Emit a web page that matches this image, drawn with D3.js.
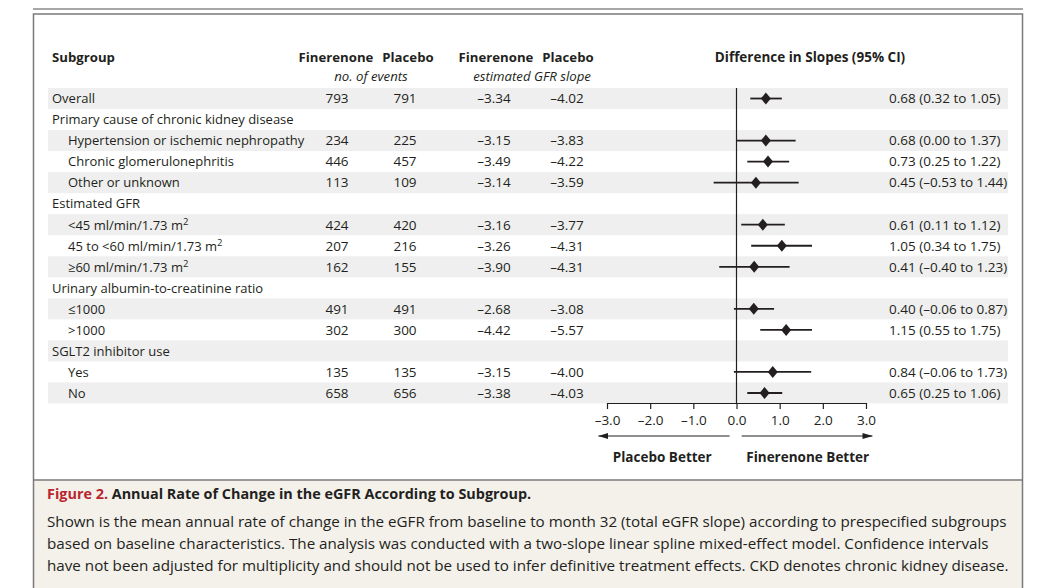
<!DOCTYPE html>
<html>
<head>
<meta charset="utf-8">
<script src="https://cdn.jsdelivr.net/npm/d3@7"></script>
<style>
  body { margin: 0; background: #fff; }
  svg text { font-family: "Open Sans", "Noto Sans", sans-serif; fill: #231f20; }
</style>
</head>
<body>
<div id="chart"></div>
<script>
// subgroup rows (header rows have null values)
var labels = ["Overall", "Primary cause of chronic kidney disease",
  "Hypertension or ischemic nephropathy", "Chronic glomerulonephritis", "Other or unknown",
  "Estimated GFR", "<45 ml/min/1.73 m|2", "45 to <60 ml/min/1.73 m|2", "\u226560 ml/min/1.73 m|2",
  "Urinary albumin-to-creatinine ratio", "\u22641000", ">1000",
  "SGLT2 inhibitor use", "Yes", "No"];
var indent = [0, 0, 1, 1, 1, 0, 1, 1, 1, 0, 1, 1, 0, 1, 1];
var finEvents = [793, null, 234, 446, 113, null, 424, 207, 162, null, 491, 302, null, 135, 658];
var plaEvents = [791, null, 225, 457, 109, null, 420, 216, 155, null, 491, 300, null, 135, 656];
var finSlope = [-3.34, null, -3.15, -3.49, -3.14, null, -3.16, -3.26, -3.90, null, -2.68, -4.42, null, -3.15, -3.38];
var plaSlope = [-4.02, null, -3.83, -4.22, -3.59, null, -3.77, -4.31, -4.31, null, -3.08, -5.57, null, -4.00, -4.03];
var diff = [0.68, null, 0.68, 0.73, 0.45, null, 0.61, 1.05, 0.41, null, 0.40, 1.15, null, 0.84, 0.65];
var ciLow = [0.32, null, 0.00, 0.25, -0.53, null, 0.11, 0.34, -0.40, null, -0.06, 0.55, null, -0.06, 0.25];
var ciHigh = [1.05, null, 1.37, 1.22, 1.44, null, 1.12, 1.75, 1.23, null, 0.87, 1.75, null, 1.73, 1.06];
var ticks = [-3, -2, -1, 0, 1, 2, 3];

var captionTitle = "Annual Rate of Change in the eGFR According to Subgroup.";
var captionLines = [
  "Shown is the mean annual rate of change in the eGFR from baseline to month 32 (total eGFR slope) according to prespecified subgroups",
  "based on baseline characteristics. The analysis was conducted with a two-slope linear spline mixed-effect model. Confidence intervals",
  "have not been adjusted for multiplicity and should not be used to infer definitive treatment effects. CKD denotes chronic kidney disease."
];

var width = 1042, height = 588;
var fs = 13.5;

var svg = d3.select("#chart").append("svg")
  .attr("width", width)
  .attr("height", height);

// number formats with en dash like the journal
var f2 = function(v) { return d3.format(".2f")(v).replace("\u2212", "\u2013"); };
var f1 = function(v) { return d3.format(".1f")(v).replace("\u2212", "\u2013"); };

// scales
var rowY = d3.scaleBand().domain(d3.range(labels.length)).range([88, 403.5]);
var xScale = d3.scaleLinear().domain([-3, 3]).range([607, 866]);

// frame
svg.append("line").attr("x1", 33).attr("x2", 1023).attr("y1", 9).attr("y2", 9)
  .attr("stroke", "#8a8a8a").attr("stroke-width", 1.5);
svg.append("rect").attr("x", 33.5).attr("y", 480).attr("width", 989).attr("height", 120)
  .attr("fill", "#f4f1eb");
svg.append("rect").attr("x", 33.5).attr("y", 14).attr("width", 989).attr("height", 600)
  .attr("fill", "none").attr("stroke", "#7a7a7a").attr("stroke-width", 1.5);
svg.append("line").attr("x1", 33).attr("x2", 1023).attr("y1", 480).attr("y2", 480)
  .attr("stroke", "#7a7a7a").attr("stroke-width", 1.5);

// row shading
svg.selectAll("rect.shade")
  .data(d3.range(labels.length).filter(function(i) { return i % 2 === 0; }))
  .enter().append("rect")
  .attr("class", "shade")
  .attr("x", 48).attr("width", 960)
  .attr("y", function(i) { return rowY(i); })
  .attr("height", rowY.bandwidth())
  .attr("fill", "#efefef");

// column headers
var head = svg.append("g").style("font-size", "13.2px");
head.append("text").attr("x", 52).attr("y", 62).style("font-weight", "bold").text("Subgroup");
head.append("text").attr("x", 336).attr("y", 62).attr("text-anchor", "middle").style("font-weight", "bold").text("Finerenone");
head.append("text").attr("x", 408).attr("y", 62).attr("text-anchor", "middle").style("font-weight", "bold").text("Placebo");
head.append("text").attr("x", 371).attr("y", 81).attr("text-anchor", "middle").style("font-style", "italic").text("no. of events");
head.append("text").attr("x", 496).attr("y", 62).attr("text-anchor", "middle").style("font-weight", "bold").text("Finerenone");
head.append("text").attr("x", 568).attr("y", 62).attr("text-anchor", "middle").style("font-weight", "bold").text("Placebo");
head.append("text").attr("x", 532).attr("y", 81).attr("text-anchor", "middle").style("font-style", "italic").text("estimated GFR slope");
head.append("text").attr("x", 810).attr("y", 62).attr("text-anchor", "middle").style("font-weight", "bold").style("font-size", fs + "px").text("Difference in Slopes (95% CI)");

// table text
var rows = svg.selectAll("g.row")
  .data(d3.range(labels.length))
  .enter().append("g")
  .attr("class", "row")
  .attr("transform", function(i) { return "translate(0," + (rowY(i) + rowY.bandwidth() / 2 + 4.8) + ")"; })
  .style("font-size", fs + "px");

rows.append("text")
  .attr("x", function(i) { return indent[i] ? 68 : 52; })
  .style("font-size", "13px")
  .each(function(i) {
    var parts = labels[i].split("|");
    var t = d3.select(this);
    t.append("tspan").text(parts[0]);
    if (parts[1]) {
      t.append("tspan").attr("dy", -5).style("font-size", "9.5px").text(parts[1]);
    }
  });

var cols = [
  {arr: finEvents, x: 337, fmt: function(v) { return v; }},
  {arr: plaEvents, x: 405, fmt: function(v) { return v; }},
  {arr: finSlope, x: 494, fmt: f2},
  {arr: plaSlope, x: 567, fmt: f2}
];
cols.forEach(function(c) {
  rows.filter(function(i) { return c.arr[i] !== null; })
    .append("text")
    .attr("x", c.x)
    .attr("text-anchor", "middle")
    .text(function(i) { return c.fmt(c.arr[i]); });
});

rows.filter(function(i) { return diff[i] !== null; })
  .append("text")
  .attr("x", 889)
  .text(function(i) { return f2(diff[i]) + " (" + f2(ciLow[i]) + " to " + f2(ciHigh[i]) + ")"; });

// zero line
svg.append("line")
  .attr("x1", xScale(0)).attr("x2", xScale(0))
  .attr("y1", 88).attr("y2", 403)
  .attr("stroke", "#231f20").attr("stroke-width", 1.2);

// CI lines and diamonds
var pts = d3.range(labels.length).filter(function(i) { return diff[i] !== null; });
svg.selectAll("line.ci")
  .data(pts)
  .enter().append("line")
  .attr("class", "ci")
  .attr("x1", function(i) { return xScale(ciLow[i]); })
  .attr("x2", function(i) { return xScale(ciHigh[i]); })
  .attr("y1", function(i) { return rowY(i) + rowY.bandwidth() / 2; })
  .attr("y2", function(i) { return rowY(i) + rowY.bandwidth() / 2; })
  .attr("stroke", "#231f20").attr("stroke-width", 1.8);

svg.selectAll("path.pt")
  .data(pts)
  .enter().append("path")
  .attr("class", "pt")
  .attr("d", "M0,-6L5,0L0,6L-5,0Z")
  .attr("transform", function(i) { return "translate(" + xScale(diff[i]) + "," + (rowY(i) + rowY.bandwidth() / 2) + ")"; })
  .attr("fill", "#231f20");

// axis
var axis = svg.append("g")
  .attr("transform", "translate(0,403)")
  .call(d3.axisBottom(xScale).tickValues(ticks).tickSize(6).tickSizeOuter(0).tickPadding(6).tickFormat(f1));
axis.select(".domain").attr("stroke", "#231f20").attr("stroke-width", 1.2);
axis.selectAll(".tick line").attr("stroke", "#231f20").attr("stroke-width", 1.2);
axis.selectAll(".tick text").style("font-size", fs + "px").style("font-family", null).attr("fill", "#231f20");

// arrows
var defs = svg.append("defs");
defs.append("marker").attr("id", "arr")
  .attr("viewBox", "0 0 10 6").attr("refX", 10).attr("refY", 3)
  .attr("markerWidth", 10).attr("markerHeight", 6).attr("markerUnits", "userSpaceOnUse")
  .attr("orient", "auto")
  .append("path").attr("d", "M0,0L10,3L0,6Z").attr("fill", "#231f20");
svg.append("line").attr("x1", xScale(-0.16)).attr("x2", xScale(-3.2)).attr("y1", 436).attr("y2", 436)
  .attr("stroke", "#231f20").attr("stroke-width", 1.2).attr("marker-end", "url(#arr)");
svg.append("line").attr("x1", xScale(0.12)).attr("x2", xScale(3.15)).attr("y1", 436).attr("y2", 436)
  .attr("stroke", "#231f20").attr("stroke-width", 1.2).attr("marker-end", "url(#arr)");
svg.append("text").attr("x", xScale(-1.72)).attr("y", 462).attr("text-anchor", "middle")
  .style("font-size", fs + "px").style("font-weight", "bold").text("Placebo Better");
svg.append("text").attr("x", xScale(1.65)).attr("y", 462).attr("text-anchor", "middle")
  .style("font-size", fs + "px").style("font-weight", "bold").text("Finerenone Better");

// caption
var cap = svg.append("text").attr("x", 47).attr("y", 499).style("font-size", "14.4px").style("font-weight", "bold");
cap.append("tspan").style("fill", "#b8262f").text("Figure 2. ");
cap.append("tspan").text(captionTitle);
svg.selectAll("text.capline")
  .data(captionLines)
  .enter().append("text")
  .attr("class", "capline")
  .attr("x", 47)
  .attr("y", function(d, i) { return 527 + i * 22; })
  .style("font-size", "15.2px")
  .text(function(d) { return d; });
</script>
</body>
</html>
